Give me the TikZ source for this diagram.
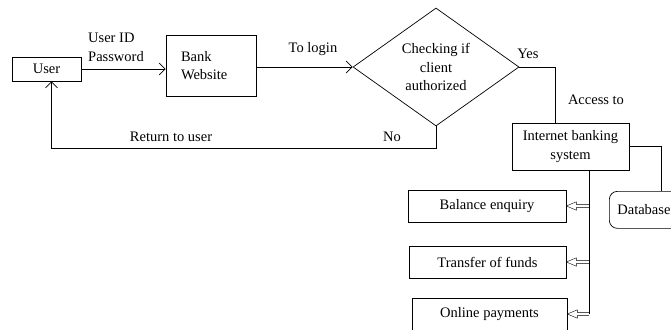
\documentclass[tikz,border=0pt]{standalone}
\usepackage{fontspec}
\setmainfont{Liberation Serif}
\usetikzlibrary{arrows.meta,shapes.geometric,calc}
\begin{document}
\begin{tikzpicture}[x=1pt,y=-1pt,
  every node/.style={font=\fontsize{14.5}{18.5}\selectfont, inner sep=0pt},
  box/.style={draw, line width=0.7pt, rectangle},
  rbox/.style={draw, line width=0.7pt, rectangle, rounded corners=8pt},
  lbl/.style={},
  line/.style={line width=0.7pt},
  arr/.style={line width=0.7pt, -{Straight Barb[length=6pt,width=12pt,line width=0.7pt]}},
  hollow/.style={line width=0.7pt, to path={
     ($(\tikztostart)+(0,-1.6)$) -- ($(\tikztotarget)+(10,-1.6)$) -- ++(0,-2.6)
     -- (\tikztotarget) -- ++(10,4.2) -- ++(0,-2.6) -- ($(\tikztostart)+(0,1.6)$)}}
]
\useasboundingbox (0,0) rectangle (671,329);
\clip (0,0) rectangle (671,329);

% main boxes
\node[box, minimum width=69pt, minimum height=24pt] (user) at (46.5,69) {User};
\node[box, minimum height=61pt, text width=60pt, inner xsep=15pt, align=left] (bank) at (211,65.5) {Bank\\Website};
\node[draw, line width=0.7pt, shape=diamond, minimum width=166pt, minimum height=118pt, align=center] (dia) at (436,67) {Checking if\\client\\authorized};
\node[box, minimum width=117pt, minimum height=47pt, align=center] (ibs) at (570.5,146.5) {Internet banking\\system};
\node[rbox, anchor=north west, minimum height=37pt, text width=72pt, inner xsep=8pt, align=left] (db) at (609,191) {Database};

% service boxes
\node[box, minimum width=158pt, minimum height=32pt] (bal) at (487,206) {Balance enquiry};
\node[box, minimum width=157pt, minimum height=32pt] (tra) at (487.5,262) {Transfer of funds};
\node[box, minimum width=155pt, minimum height=32pt] (onl) at (489.5,314) {Online payments};

% labels
\node[lbl, anchor=west, align=left] (cred) at (88,47.5) {User ID\\Password};
\node[lbl] (tologin) at (313,49) {To login};
\node[lbl] (yes) at (528,54) {Yes};
\node[lbl] (access) at (596,100) {Access to};
\node[lbl] (no) at (392,137) {No};
\node[lbl] (ret) at (171,137) {Return to user};

% connectors
\draw[arr] (user.east) -- (user.east -| bank.west);
\draw[arr] (bank.east |- dia.west) -- (dia.west);
\draw[line] (dia.east) -| ([xshift=-15.5pt]ibs.north);
\draw[arr] (dia.south) -- ++(0,22) -| ([xshift=5pt]user.south);
\draw[line] (ibs.east) -| ([xshift=8pt]db.north);

\coordinate (trunk) at ([xshift=18.5pt]ibs.south);
\draw[line] (trunk) -- (trunk |- onl.east);
\draw (bal.east -| trunk) to[hollow] (bal.east);
\draw (tra.east -| trunk) to[hollow] (tra.east);
\draw (onl.east -| trunk) to[hollow] (onl.east);
\end{tikzpicture}
\end{document}
